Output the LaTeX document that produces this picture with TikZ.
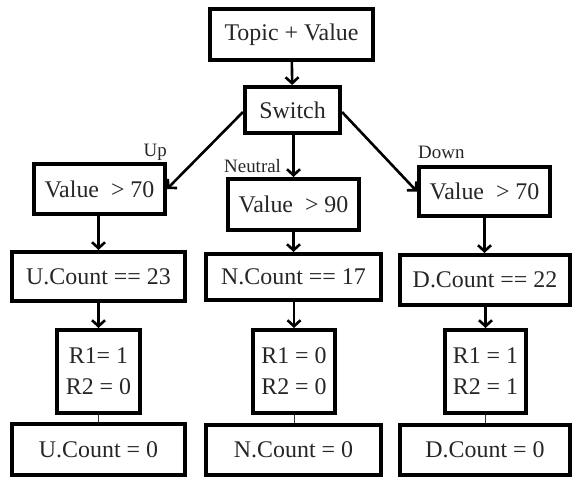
\documentclass[tikz,border=0pt]{standalone}
\usepackage{fontspec}
\setmainfont{Liberation Serif}
\usetikzlibrary{arrows.meta}
\begin{document}
\begin{tikzpicture}[x=1bp,y=-1bp,
  box/.style={draw=black,line width=4bp,inner sep=0pt,align=center,
    font=\fontsize{24}{31}\selectfont,text=black!85},
  lbl/.style={inner sep=0pt,font=\fontsize{19}{22}\selectfont,text=black!85},
  flow/.style={line width=2.6bp,-{Straight Barb[length=6bp,width=13bp,line width=2.6bp]}},
  link/.style={line width=1bp,draw=black!80}]
\useasboundingbox (0,0) rectangle (573,477);

% root and switch
\node[box,minimum width=163bp,minimum height=51bp] (top) at (291.5,34.5) {Topic + Value};
\node[box,minimum width=95bp,minimum height=46bp] (sw) at (292.5,110) {Switch};

% threshold checks
\node[box,minimum width=131bp,minimum height=50bp] (v1) at (99.5,189) {Value\ \ > 70};
\node[box,minimum width=131bp,minimum height=51bp] (v2) at (293.5,204.5) {Value\ \ > 90};
\node[box,minimum width=131bp,minimum height=49bp] (v3) at (484.5,191.5) {Value\ \ > 70};

% counters
\node[box,minimum width=173bp,minimum height=49bp] (c1) at (98.5,276.5) {U.Count == 23};
\node[box,minimum width=175bp,minimum height=46bp] (c2) at (293.5,277) {N.Count == 17};
\node[box,minimum width=170bp,minimum height=50bp] (c3) at (485,280) {D.Count == 22};

% relay outputs
\node[box,minimum width=83bp,minimum height=83bp] (r1) at (98.5,371.5) {R1= 1\\R2 = 0};
\node[box,minimum width=82bp,minimum height=83bp] (r2) at (294,371.5) {R1 = 0\\R2 = 0};
\node[box,minimum width=81bp,minimum height=83bp] (r3) at (485.5,371.5) {R1 = 1\\R2 = 1};

% counter reset
\node[box,minimum width=173bp,minimum height=51bp] (z1) at (98.5,449.5) {U.Count = 0};
\node[box,minimum width=175bp,minimum height=50bp] (z2) at (293.5,450) {N.Count = 0};
\node[box,minimum width=170bp,minimum height=50bp] (z3) at (485,450) {D.Count = 0};

% branch labels
\node[lbl,anchor=base east] (lup) at (167,157) {Up};
\node[lbl,anchor=base west] (lneu) at (224,172.5) {Neutral};
\node[lbl,anchor=base west] (ldown) at (418,159) {Down};

% connectors
\draw[flow] (top) -- (sw);
\draw[flow] ([yshift=-2bp]sw.west) -- (v1.east);
\draw[flow] (sw.south -| v2.north) -- (v2.north);
\draw[flow] ([yshift=-2bp]sw.east) -- (v3.west);

\draw[flow] (v1.south -| c1.north) -- (c1.north);
\draw[flow] (v2.south) -- (v2.south |- c2.north);
\draw[flow] (v3.south) -- (v3.south |- c3.north);

\draw[flow] (c1.south -| r1.north) -- (r1.north);
\draw[flow] (c2.south -| r2.north) -- (r2.north);
\draw[flow] (c3.south -| r3.north) -- (r3.north);

\draw[link] (r1.south) -- (r1.south |- z1.north);
\draw[link] (r2.south) -- (r2.south |- z2.north);
\draw[link] (r3.south) -- (r3.south |- z3.north);
\end{tikzpicture}
\end{document}
